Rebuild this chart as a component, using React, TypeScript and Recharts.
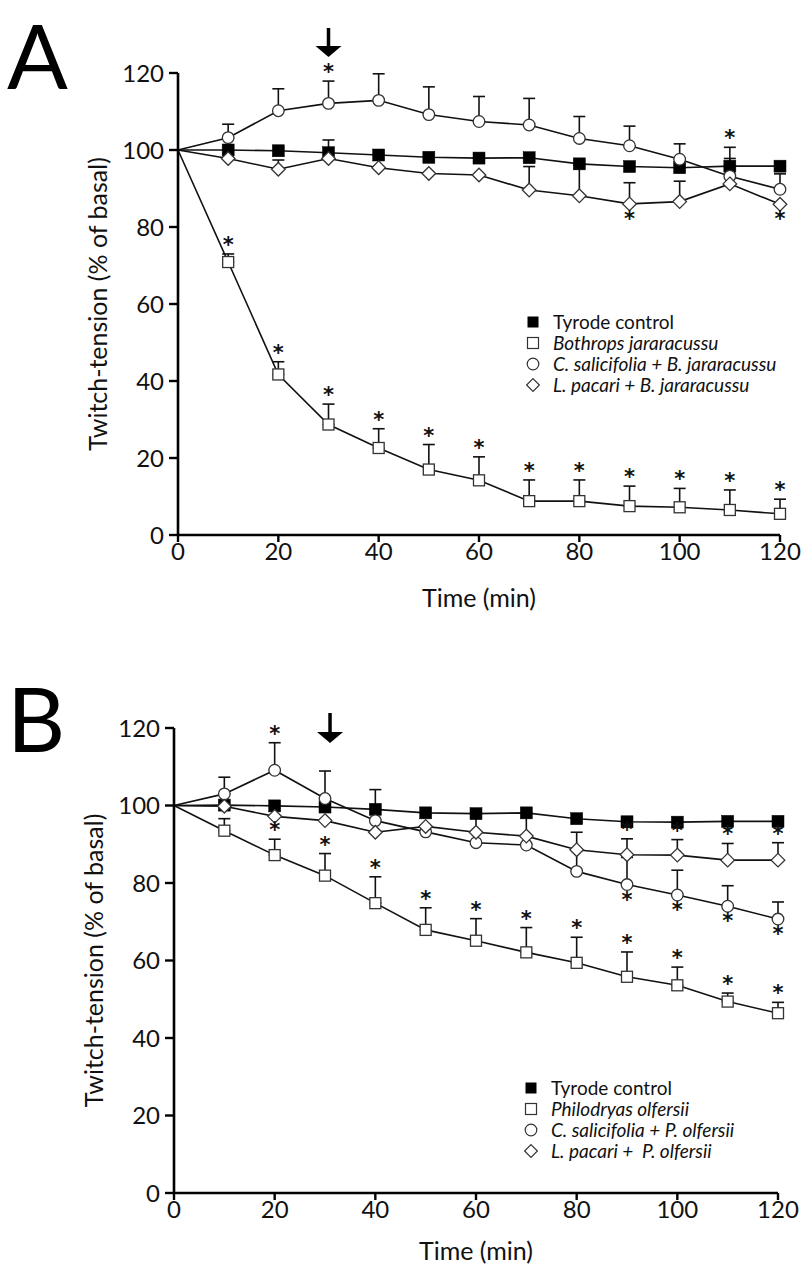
import React from 'react';
import { ComposedChart, Line, XAxis, YAxis, ErrorBar, Legend, ReferenceDot, Label } from 'recharts';

// ---------- shared axes ----------
const times = [0, 10, 20, 30, 40, 50, 60, 70, 80, 90, 100, 110, 120];
const xTicks = [0, 20, 40, 60, 80, 100, 120];
const yTicks = [0, 20, 40, 60, 80, 100, 120];

// ---------- Panel A ----------
const tyrodeA = [100, 100, 99.8, 99.3, 98.7, 98.1, 97.9, 98.0, 96.4, 95.7, 95.4, 95.8, 95.8];
const tyrodeAErr = [0, 0, 0, 0, 0, 0, 0, 0, 0, 0, 0, 2.0, 0];
const bothropsA = [100, 70.9, 41.7, 28.7, 22.6, 17.0, 14.2, 8.8, 8.8, 7.5, 7.2, 6.5, 5.5];
const bothropsAErr = [0, 2.1, 3.3, 5.3, 5.0, 6.5, 6.1, 5.5, 5.5, 5.2, 4.9, 5.2, 3.8];
const salicifoliaA = [100, 103.2, 110.2, 112.1, 112.9, 109.2, 107.4, 106.5, 103.0, 101.1, 97.6, 93.2, 89.8];
const salicifoliaAErr = [0, 3.5, 5.7, 5.8, 6.9, 7.2, 6.5, 6.9, 5.7, 5.1, 4.0, 0, 4.0];
const pacariA = [100, 97.8, 95.0, 97.8, 95.4, 93.9, 93.5, 89.6, 88.1, 86.0, 86.6, 91.2, 85.9];
const pacariAErr = [0, 0, 2.4, 4.8, 0, 0, 0, 6.1, 8.0, 5.5, 5.3, 9.5, 0];
const bothropsAStarsAbove = [10, 20, 30, 40, 50, 60, 70, 80, 90, 100, 110, 120];
const salicifoliaAStarsAbove = [30];
const pacariAStarsAbove = [110];
const pacariAStarsBelow = [90, 120];
const legendA = ['Tyrode control', 'Bothrops jararacussu', 'C. salicifolia + B. jararacussu', 'L. pacari + B. jararacussu'];

// ---------- Panel B ----------
const tyrodeB = [100, 100.1, 99.9, 99.6, 99.0, 98.1, 97.9, 98.1, 96.6, 95.8, 95.7, 95.9, 95.9];
const tyrodeBErr = [0, 0, 0, 0, 0, 0, 0, 0, 0, 0, 0, 0, 0];
const olfersiiB = [100, 93.5, 87.2, 81.9, 74.8, 67.9, 65.1, 62.1, 59.4, 55.8, 53.6, 49.4, 46.4];
const olfersiiBErr = [0, 3.1, 4.1, 5.7, 6.8, 5.7, 5.7, 6.4, 6.6, 6.4, 4.7, 2.2, 2.8];
const salicifoliaB = [100, 103.0, 109.1, 101.8, 96.1, 93.2, 90.4, 89.8, 83.0, 79.6, 76.9, 74.0, 70.7];
const salicifoliaBErr = [0, 4.3, 7.1, 7.1, 8.0, 0, 0, 0, 5.6, 7.0, 6.4, 5.3, 4.4];
const pacariB = [100, 99.8, 97.2, 96.1, 93.1, 94.6, 93.1, 92.1, 88.6, 87.3, 87.2, 85.9, 85.9];
const pacariBErr = [0, 0, 0, 0, 0, 0, 5.0, 6.0, 4.5, 4.1, 4.0, 4.3, 4.5];
const olfersiiBStarsAbove = [20, 30, 40, 50, 60, 70, 80, 90, 100, 110, 120];
const salicifoliaBStarsAbove = [20];
const salicifoliaBStarsBelow = [90, 100, 110, 120];
const pacariBStarsAbove = [90, 100, 110, 120];
const legendB = ['Tyrode control', 'Philodryas olfersii', 'C. salicifolia + P. olfersii', 'L. pacari +  P. olfersii'];

type Kind = 'filledSquare' | 'openSquare' | 'circle' | 'diamond';
type SeriesDef = {
  key: string;
  name: string;
  kind: Kind;
  italic: boolean;
  values: number[];
  err: number[];
  starsAbove: number[];
  starsBelow: number[];
};

const FONT = 'Lato, "Open Sans", sans-serif';
const INK = '#111';

function buildRows(series: SeriesDef[]) {
  return times.map((t, i) => {
    const row: Record<string, any> = { t };
    series.forEach((s) => {
      row[s.key] = s.values[i];
      row[s.key + '_e'] = s.err[i] > 0 ? [0, s.err[i]] : null;
      row[s.key + '_sa'] = s.starsAbove.includes(t) ? s.values[i] + s.err[i] : null;
      row[s.key + '_sb'] = s.starsBelow.includes(t) ? s.values[i] : null;
    });
    return row;
  });
}

function Marker({ kind, cx, cy }: { kind: Kind; cx: number; cy: number }) {
  if (kind === 'filledSquare') {
    return <rect x={cx - 6} y={cy - 6} width={12} height={12} fill="#000" stroke="#000" strokeWidth={0.5} />;
  }
  if (kind === 'openSquare') {
    return <rect x={cx - 5.5} y={cy - 5.5} width={11} height={11} fill="#fff" stroke="#333" strokeWidth={1.3} />;
  }
  if (kind === 'circle') {
    return <circle cx={cx} cy={cy} r={5.8} fill="#fff" stroke="#333" strokeWidth={1.3} />;
  }
  const h = 6.8;
  return (
    <polygon
      points={`${cx},${cy - h} ${cx + h},${cy} ${cx},${cy + h} ${cx - h},${cy}`}
      fill="#fff"
      stroke="#333"
      strokeWidth={1.3}
    />
  );
}

const makeDot = (kind: Kind) => (props: any) => {
  const { cx, cy, index } = props;
  if (index === 0 || cx == null || cy == null || isNaN(cy)) return <g key={`d-${index}`} />;
  return (
    <g key={`d-${index}`}>
      <Marker kind={kind} cx={cx} cy={cy} />
    </g>
  );
};

const makeStar = (dy: number) => (props: any) => {
  const { cx, cy, index, value } = props;
  if (value == null || cx == null || cy == null || isNaN(cy)) return <g key={`s-${index}`} />;
  return (
    <text
      key={`s-${index}`}
      x={cx}
      y={cy + dy}
      textAnchor="middle"
      dominantBaseline="central"
      fontFamily='"DejaVu Sans", sans-serif'
      fontWeight="bold"
      fontSize={21}
      fill={INK}
    >
      *
    </text>
  );
};

const ArrowShape = (top: number, tip: number) => (props: any) => {
  const { cx, cy } = props;
  if (cx == null || cy == null) return <g />;
  const y0 = cy + top;
  const y1 = cy + tip;
  const headH = 11;
  return (
    <g>
      <line x1={cx} y1={y0} x2={cx} y2={y1 - headH + 1} stroke="#000" strokeWidth={3.5} />
      <polygon points={`${cx - 13},${y1 - headH} ${cx + 13},${y1 - headH} ${cx},${y1}`} fill="#000" />
    </g>
  );
};

function LegendBox({ payload, series }: { payload: any[]; series: SeriesDef[] }) {
  const byKey: Record<string, any> = {};
  (payload || []).forEach((p: any) => (byKey[p.dataKey] = p));
  const items = series.filter((s) => byKey[s.key]);
  return (
    <div style={{ fontFamily: FONT, fontSize: 19, color: INK }}>
      {items.map((s, i) => (
        <div key={i} style={{ display: 'flex', alignItems: 'center', height: 21 }}>
          <svg width={14} height={14} style={{ marginRight: 13, flex: 'none' }}>
            {s.kind === 'filledSquare' && <rect x={1.5} y={1.5} width={11} height={11} fill="#000" />}
            {s.kind === 'openSquare' && <rect x={1.5} y={1.5} width={11} height={11} fill="#fff" stroke="#333" strokeWidth={1.2} />}
            {s.kind === 'circle' && <circle cx={7} cy={7} r={5.8} fill="#fff" stroke="#333" strokeWidth={1.2} />}
            {s.kind === 'diamond' && <polygon points="7,0.6 13.4,7 7,13.4 0.6,7" fill="#fff" stroke="#333" strokeWidth={1.2} />}
          </svg>
          <span style={{ fontStyle: s.italic ? 'italic' : 'normal', whiteSpace: 'pre' }}>{byKey[s.key].value}</span>
        </div>
      ))}
    </div>
  );
}

type PanelProps = {
  series: SeriesDef[];
  width: number;
  height: number;
  margin: { top: number; right: number; bottom: number; left: number };
  legendTop: number;
  legendLeft: number;
  arrowX: number;
  arrowTop: number;
  arrowTip: number;
  timeLabelDy: number;
};

function Panel({ series, width, height, margin, legendTop, legendLeft, arrowX, arrowTop, arrowTip, timeLabelDy }: PanelProps) {
  const rows = buildRows(series);
  const tickStyle = { fill: INK, fontSize: 24, fontFamily: FONT };
  return (
    <ComposedChart width={width} height={height} data={rows} margin={margin}>
      <XAxis
        type="number"
        dataKey="t"
        domain={[0, 120]}
        ticks={xTicks}
        interval={0}
        height={60}
        tick={tickStyle}
        tickSize={7}
        tickMargin={1}
        axisLine={{ stroke: '#000', strokeWidth: 2.6 }}
        tickLine={{ stroke: '#000', strokeWidth: 2.4 }}
      >
        <Label
          content={(p: any) => {
            const vb = p.viewBox;
            return (
              <text x={vb.x + vb.width / 2} y={vb.y + timeLabelDy} textAnchor="middle" dominantBaseline="central" fontFamily={FONT} fontSize={25} fill={INK}>
                Time (min)
              </text>
            );
          }}
        />
      </XAxis>
      <YAxis
        type="number"
        domain={[0, 120]}
        ticks={yTicks}
        interval={0}
        width={100}
        tick={tickStyle}
        tickSize={9}
        tickMargin={5}
        axisLine={{ stroke: '#000', strokeWidth: 2.6 }}
        tickLine={{ stroke: '#000', strokeWidth: 2.4 }}
      >
        <Label
          content={(p: any) => {
            const vb = p.viewBox;
            const x = vb.x + 19;
            const y = vb.y + vb.height / 2;
            return (
              <text x={x} y={y} transform={`rotate(-90 ${x} ${y})`} textAnchor="middle" dominantBaseline="central" fontFamily={FONT} fontSize={25} fill={INK}>
                Twitch-tension (% of basal)
              </text>
            );
          }}
        />
      </YAxis>
      {series.map((s) => (
        <Line
          key={s.key}
          dataKey={s.key}
          name={s.name}
          stroke="#111"
          strokeWidth={1.6}
          dot={makeDot(s.kind)}
          activeDot={false}
          isAnimationActive={false}
        >
          <ErrorBar dataKey={s.key + '_e'} direction="y" width={6} stroke="#111" strokeWidth={1.6} />
        </Line>
      ))}
      {series.map((s) => (
        <Line
          key={s.key + '_sa'}
          dataKey={s.key + '_sa'}
          stroke="none"
          legendType="none"
          dot={makeStar(-9)}
          activeDot={false}
          isAnimationActive={false}
        />
      ))}
      {series.map((s) => (
        <Line
          key={s.key + '_sb'}
          dataKey={s.key + '_sb'}
          stroke="none"
          legendType="none"
          dot={makeStar(15)}
          activeDot={false}
          isAnimationActive={false}
        />
      ))}
      <ReferenceDot x={arrowX} y={120} r={0} ifOverflow="visible" shape={ArrowShape(arrowTop, arrowTip)} />
      <Legend
        layout="vertical"
        align="center"
        verticalAlign="middle"
        content={(p: any) => <LegendBox payload={p.payload} series={series} />}
        wrapperStyle={{ top: legendTop, left: legendLeft, width: 'auto' }}
      />
    </ComposedChart>
  );
}

const seriesA: SeriesDef[] = [
  { key: 'tyA', name: legendA[0], kind: 'filledSquare', italic: false, values: tyrodeA, err: tyrodeAErr, starsAbove: [], starsBelow: [] },
  { key: 'bjA', name: legendA[1], kind: 'openSquare', italic: true, values: bothropsA, err: bothropsAErr, starsAbove: bothropsAStarsAbove, starsBelow: [] },
  { key: 'csA', name: legendA[2], kind: 'circle', italic: true, values: salicifoliaA, err: salicifoliaAErr, starsAbove: salicifoliaAStarsAbove, starsBelow: [] },
  { key: 'lpA', name: legendA[3], kind: 'diamond', italic: true, values: pacariA, err: pacariAErr, starsAbove: pacariAStarsAbove, starsBelow: pacariAStarsBelow },
];

const seriesB: SeriesDef[] = [
  { key: 'tyB', name: legendB[0], kind: 'filledSquare', italic: false, values: tyrodeB, err: tyrodeBErr, starsAbove: [], starsBelow: [] },
  { key: 'poB', name: legendB[1], kind: 'openSquare', italic: true, values: olfersiiB, err: olfersiiBErr, starsAbove: olfersiiBStarsAbove, starsBelow: [] },
  { key: 'csB', name: legendB[2], kind: 'circle', italic: true, values: salicifoliaB, err: salicifoliaBErr, starsAbove: salicifoliaBStarsAbove, starsBelow: salicifoliaBStarsBelow },
  { key: 'lpB', name: legendB[3], kind: 'diamond', italic: true, values: pacariB, err: pacariBErr, starsAbove: pacariBStarsAbove, starsBelow: [] },
];

const letterStyle: React.CSSProperties = {
  position: 'absolute',
  fontFamily: FONT,
  fontSize: 90,
  lineHeight: '90px',
  color: '#000',
};

export default function App() {
  return (
    <div style={{ position: 'absolute', top: 0, left: 0, width: 810, height: 1275, background: '#fff', overflow: 'hidden' }}>
      <div style={{ position: 'absolute', top: 0, left: 0 }}>
        <Panel
          series={seriesA}
          width={810}
          height={630}
          margin={{ top: 73, right: 30, bottom: 35, left: 78 }}
          legendTop={311}
          legendLeft={526}
          arrowX={30}
          arrowTop={-45}
          arrowTip={-16}
          timeLabelDy={62}
        />
      </div>
      <div style={{ position: 'absolute', top: 640, left: 0 }}>
        <Panel
          series={seriesB}
          width={810}
          height={635}
          margin={{ top: 88, right: 32, bottom: 22, left: 74 }}
          legendTop={437}
          legendLeft={524}
          arrowX={31}
          arrowTop={-15}
          arrowTip={15}
          timeLabelDy={57}
        />
      </div>
      <div style={{ ...letterStyle, top: 9, left: 7 }}>A</div>
      <div style={{ ...letterStyle, top: 672, left: 7 }}>B</div>
    </div>
  );
}
